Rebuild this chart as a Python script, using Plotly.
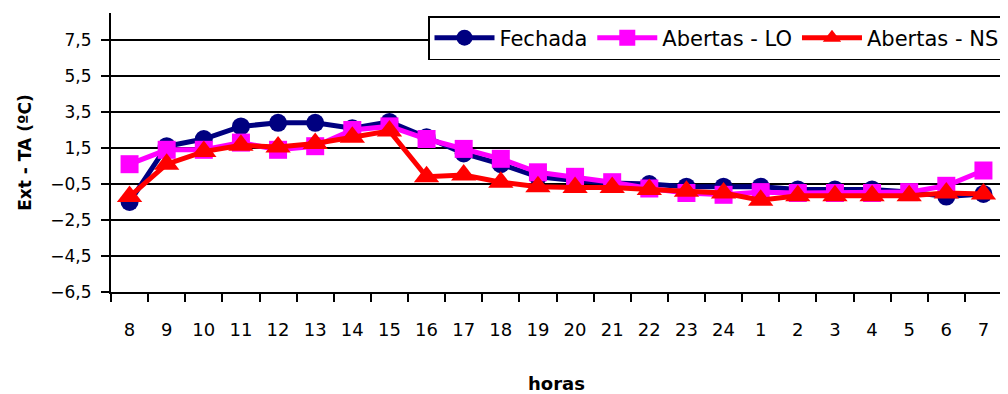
import plotly.graph_objects as go

horas = ["8", "9", "10", "11", "12", "13", "14", "15", "16", "17", "18", "19",
         "20", "21", "22", "23", "24", "1", "2", "3", "4", "5", "6", "7"]

fechada = [-1.5, 1.6, 2.0, 2.7, 2.9, 2.9, 2.6, 2.95, 2.1, 1.2, 0.6, -0.1,
           -0.3, -0.45, -0.5, -0.65, -0.65, -0.65, -0.8, -0.8, -0.8, -0.95, -1.2, -1.05]

abertas_lo = [0.6, 1.4, 1.4, 1.8, 1.4, 1.6, 2.5, 2.7, 2.0, 1.45, 0.9, 0.15,
              -0.1, -0.4, -0.75, -1.0, -1.1, -0.95, -1.0, -1.0, -1.0, -0.95, -0.6, 0.25]

abertas_ns = [-1.2, 0.6, 1.3, 1.65, 1.55, 1.75, 2.1, 2.45, -0.1, 0.0, -0.4, -0.65,
              -0.7, -0.7, -0.8, -0.9, -1.0, -1.4, -1.15, -1.15, -1.15, -1.15, -1.0, -1.05]

series = [
    ("Fechada", fechada, "#000080", "circle", 18),
    ("Abertas - LO", abertas_lo, "#FF00FF", "square", 18),
    ("Abertas - NS", abertas_ns, "#FF0000", "triangle-up", 22),
]

fig = go.Figure()
for name, vals, color, symbol, size in series:
    fig.add_trace(go.Scatter(
        x=horas, y=vals, name=name, mode="lines+markers",
        line=dict(color=color, width=5),
        marker=dict(symbol=symbol, size=size, color=color, line=dict(width=0)),
    ))

font_family = "DejaVu Sans"

# page body adds an 8px offset; figure sized to fill the rest of the window
W, H = 1000, 386

fig.update_layout(
    width=W, height=H,
    paper_bgcolor="white", plot_bgcolor="white",
    separators=",.",
    margin=dict(l=103, r=6, t=5, b=102, autoexpand=False),
    font=dict(family=font_family, color="black", size=17),
    showlegend=True,
    legend=dict(
        orientation="h",
        xref="container", yref="container",
        x=420 / W, y=1 - 8 / H,
        xanchor="left", yanchor="top",
        bordercolor="black", borderwidth=1.5,
        bgcolor="white",
        font=dict(size=21, family=font_family),
        itemwidth=60,
    ),
    xaxis=dict(
        type="category",
        range=[-0.5, len(horas) - 0.5],
        showline=True, linecolor="black", linewidth=2,
        ticks="outside", tickson="boundaries", ticklen=8, tickwidth=2, tickcolor="black",
        showgrid=False,
        tickfont=dict(size=18),
        ticklabelstandoff=20,
        title=dict(text="<b>horas</b>", font=dict(size=18), standoff=44),
    ),
    yaxis=dict(
        range=[-6.5, 9], tick0=-6.5, dtick=2, tickformat=".1f",
        showline=True, linecolor="black", linewidth=2,
        ticks="outside", ticklen=8, tickwidth=2, tickcolor="black",
        showgrid=True, gridcolor="black", gridwidth=1.5,
        zeroline=False,
        tickfont=dict(size=17),
        ticklabelstandoff=6,
        title=dict(text="<b>Ext - TA (ºC)</b>", font=dict(size=17), standoff=14),
    ),
)

fig.write_html("out.html")
